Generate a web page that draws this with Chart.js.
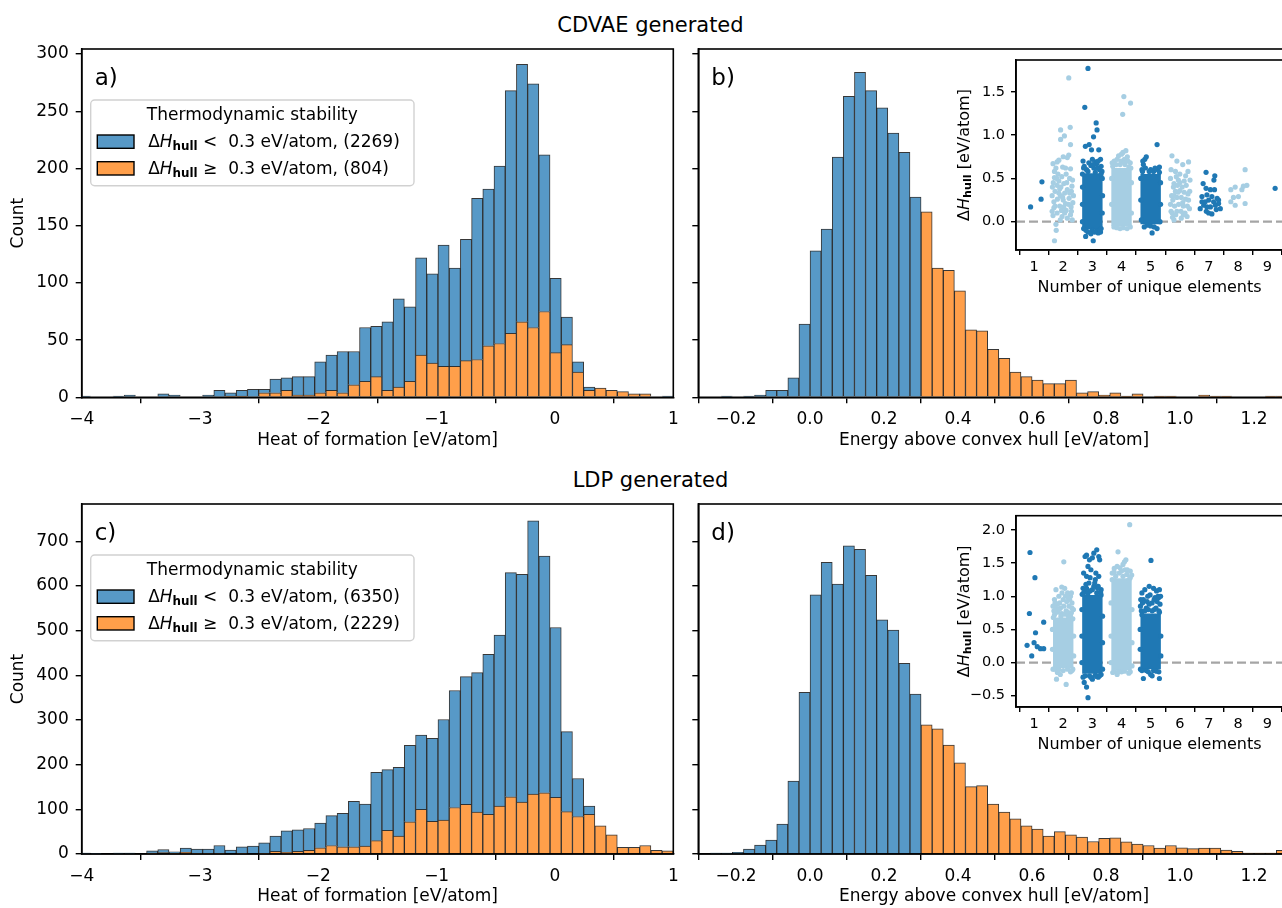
<!DOCTYPE html>
<html><head><meta charset="utf-8">
<script src="https://cdn.jsdelivr.net/npm/chart.js@4.4.1/dist/chart.umd.min.js"></script>
<style>
html,body{margin:0;padding:0;background:#fff;}
body{width:1282px;height:908px;overflow:hidden;position:relative;font-family:"DejaVu Sans",sans-serif;}
canvas{position:absolute;}
.sup{position:absolute;left:0;width:1301px;text-align:center;font:21px "DejaVu Sans";line-height:21px;color:#000;white-space:nowrap;}
</style></head><body>
<div class="sup" style="top:15px">CDVAE generated</div>
<div class="sup" style="top:470px">LDP generated</div>
<canvas id="cA"></canvas><canvas id="cB"></canvas><canvas id="cC"></canvas><canvas id="cD"></canvas>
<canvas id="iB"></canvas><canvas id="iD"></canvas>
<script>
// ---------------- DATA ----------------
const heatBinStart = -4.02, heatBinWidth = 0.09472;          // 53 bins
const heatTicks = [-4, -3, -2, -1, 0, 1];
const energyBinStart = -0.27, energyBinWidth = 0.03;         // 52 bins
const energyTicks = [-0.2, 0, 0.2, 0.4, 0.6, 0.8, 1.0, 1.2];
const countTicksCdvae = [0, 50, 100, 150, 200, 250, 300];
const countTicksLdp = [0, 100, 200, 300, 400, 500, 600, 700];
const hullCut = 0.3;
const cdvaeStableCount = 2269, cdvaeUnstableCount = 804;
const ldpStableCount = 6350, ldpUnstableCount = 2229;

// panel a: heat of formation, CDVAE (stacked: unstable at bottom, stable on top)
const cdvaeHeatUnstable = [0,0,0,0,0,0,0,0,0,0,0,0,0,1,1,0,4,4,6,2,2,4,6,4,11,14,18,6,9,14,37,30,27,27,32,33,45,47,56,66,61,75,39,46,22,6,8,6,5,3,3,0,0];
const cdvaeHeatStable   = [1,0,0,1,2,0,0,3,2,0,0,2,6,3,5,7,3,12,11,16,16,27,31,36,29,47,44,60,77,65,85,78,106,86,106,141,137,155,212,225,213,137,65,24,9,3,0,0,0,0,0,0,1];
// panel c: heat of formation, LDP
const ldpHeatUnstable = [0,0,0,0,0,0,2,3,2,4,1,1,1,0,1,0,1,6,4,6,8,14,19,16,16,18,30,53,40,72,100,73,76,104,111,94,89,107,128,116,134,137,127,95,84,89,63,43,15,15,19,8,7];
const ldpHeatStable   = [2,1,0,2,2,0,5,7,3,9,10,10,18,9,15,18,24,34,48,48,49,55,67,75,102,94,153,136,154,171,166,186,225,262,286,312,358,383,502,510,612,530,380,179,85,18,0,0,0,0,0,0,0];
// panel b / d: energy above hull
const cdvaeHull = [0,1,0,1,2,6,6,17,64,128,147,210,263,284,268,253,231,214,175,162,113,111,93,59,58,42,34,22,18,15,12,12,15,4,5,2,4,1,3,0,1,1,0,0,2,1,1,0,0,0,1,1];
const ldpHull   = [2,2,4,11,20,31,67,163,362,580,653,604,690,682,624,524,501,427,358,289,280,244,204,151,153,112,94,79,63,56,40,50,43,38,28,35,36,27,22,19,13,19,14,12,13,13,9,6,2,2,2,8];

// insets: number of unique elements vs ΔH_hull  (x = element count incl. jitter, y = eV/atom)
const elemTicks = [1, 2, 3, 4, 5, 6, 7, 8, 9];
const cdvaeInsetTicks = [0, 0.5, 1.0, 1.5];
const ldpInsetTicks = [-0.5, 0, 0.5, 1.0, 1.5, 2.0];
const cdvaeCoreElems = [3, 4, 5], cdvaeCoreLow = [-0.09, -0.05, -0.03], cdvaeCoreHigh = [0.56, 0.62, 0.55];
const ldpCoreElems = [2, 3, 4, 5], ldpCoreLow = [-0.08, -0.17, -0.12, -0.10], ldpCoreHigh = [0.68, 1.02, 1.27, 0.74];
const cdvaeStripDark = [[0.88,0.17],[1.24,0.26],[1.27,0.46],
[2.85,1.77],[2.74,1.32],[3.13,1.14],[3.16,1.06],[3.04,0.98],[2.89,0.89],[2.76,0.87],[2.97,0.83],[3.22,0.83],[3.28,0.72],[3.11,0.69],[2.77,-0.17],[3.03,-0.22],[3.28,-0.12],[2.70,0.62],[2.80,0.60],[2.95,0.65],[3.05,0.62],[3.15,0.67],[3.25,0.60],[3.33,0.58],[2.68,0.70],[3.00,0.72],[3.20,0.70],[2.85,0.58],[3.30,0.64],[2.66,0.55],[3.10,0.57],[3.34,0.50],[2.66,0.40],[3.35,0.30],[2.66,0.20],[3.34,0.10],[2.66,0.00],[2.70,-0.08],[2.85,-0.12],[3.00,-0.10],[3.15,-0.11],[3.30,-0.08],[2.95,-0.14],[3.20,-0.13],[2.72,0.64],[2.88,0.68],[3.02,0.66],[3.18,0.62],[3.30,0.55],[2.78,-0.10],[3.08,-0.12],[3.25,-0.10],
[4.70,0.60],[4.75,0.66],[4.80,0.72],[4.85,0.75],[4.73,0.70],[5.25,0.60],[5.30,0.63],[5.10,0.58],[4.95,0.58],[5.22,0.89],[5.05,-0.13],[5.22,-0.08],[4.88,-0.04],[4.66,0.50],[5.34,0.45],[4.66,0.25],[5.34,0.20],[4.68,0.02],[5.32,0.00],[5.00,-0.05],[4.72,0.58],[4.82,0.62],[5.00,0.60],[5.15,0.62],[5.30,0.57],[4.78,-0.06],[5.12,-0.06],
[6.90,0.57],[7.20,0.53],[7.17,0.48],[6.80,0.44],[6.90,0.385],[7.05,0.37],[7.19,0.37],[6.93,0.31],[6.76,0.29],[7.28,0.27],[6.99,0.25],[7.16,0.23],[7.33,0.21],[6.82,0.19],[7.05,0.17],[7.25,0.14],[6.91,0.12],[7.10,0.09],[6.76,0.23],[7.39,0.15],[7.22,0.19],[6.87,0.23],[6.93,0.17],[7.10,0.29],[7.33,0.25],[6.70,0.15],[6.99,0.10],
[9.27,0.385]];
const cdvaeStripLight = [[2.19,1.66],[1.91,0.95],[1.91,1.06],[2.04,0.99],[2.24,1.09],[2.25,0.89],[1.79,0.69],[1.85,0.71],[2.00,0.75],[2.14,0.74],[2.19,0.77],[1.75,0.62],[2.25,0.61],[1.70,0.51],[2.32,0.48],[1.79,0.42],[2.02,0.44],[2.14,0.37],[1.91,0.30],[1.68,0.23],[2.08,0.21],[2.27,0.17],[1.79,0.10],[1.96,0.06],[2.14,0.04],[2.31,0.02],[1.75,-0.03],[1.76,-0.10],[1.70,-0.22],[1.65,0.67],[1.70,0.58],[1.82,0.55],[1.95,0.52],[2.10,0.55],[2.22,0.50],[1.66,0.45],[1.88,0.38],[2.05,0.33],[2.28,0.35],[1.72,0.35],[1.62,0.30],[1.80,0.26],[2.00,0.25],[2.20,0.27],[2.33,0.22],[1.68,0.16],[1.88,0.18],[2.10,0.13],[2.25,0.08],[1.65,0.07],[1.90,0.02],[2.05,0.10],[2.35,0.30],[1.98,0.63],[2.12,0.45],[1.85,0.47],[1.62,0.12],[2.30,0.41],[1.94,0.13],[1.72,0.18],[2.18,0.20],[1.85,0.33],[2.02,0.17],[2.28,0.12],[1.78,0.50],[2.08,0.62],[1.92,0.40],[1.63,0.40],[2.22,0.33],[1.98,0.28],
[3.75,0.70],[3.90,0.76],[4.05,0.80],[4.15,0.82],[4.20,0.75],[4.30,0.68],[3.68,0.68],[4.10,0.72],[3.95,0.66],[4.25,0.63],[4.08,1.445],[4.31,1.37],[4.04,1.24],[4.19,-0.08],[3.74,-0.06],[3.66,0.50],[4.34,0.45],[3.66,0.20],[4.34,0.10],[3.95,-0.08],[3.85,0.72],[4.00,0.78],[4.12,0.66],[3.70,0.64],[3.82,0.66],[3.98,0.70],[4.10,0.68],[4.22,0.70],[4.32,0.62],[3.84,-0.07],[4.06,-0.07],[4.30,-0.06],
[5.73,0.76],[5.90,0.70],[6.10,0.66],[6.30,0.69],[5.70,0.60],[5.85,0.58],[6.00,0.55],[6.20,0.53],[6.35,0.48],[5.68,0.50],[5.95,0.48],[5.75,0.05],[5.80,0.02],[6.05,0.04],[6.25,0.06],[5.70,0.12],[6.33,0.15],[6.00,0.45],[6.15,0.47],[5.88,0.52],[6.28,0.58],[5.80,0.44],[5.72,0.30],[6.34,0.35],[5.68,0.20],[6.30,0.25],[5.78,0.40],[5.92,0.42],[6.08,0.40],[6.22,0.42],[5.85,0.35],[6.00,0.36],[6.15,0.34],[6.28,0.32],[5.76,0.25],[5.90,0.28],[6.05,0.28],[6.20,0.26],[5.82,0.18],[5.96,0.20],[6.12,0.18],[6.26,0.18],[5.74,0.10],[5.90,0.12],[6.04,0.12],[6.18,0.10],[5.86,0.08],[6.12,0.08],[5.94,0.34],[6.10,0.22],[5.80,0.30],
[7.75,0.37],[7.90,0.40],[8.24,0.60],[8.30,0.42],[8.18,0.41],[7.75,0.23],[7.84,0.28],[8.01,0.29],[7.90,0.19],[8.24,0.21],[8.13,0.37]];
const ldpStripDark = [[0.86,1.66],[1.03,1.28],[0.84,0.74],[1.33,0.61],[1.05,0.45],[1.00,0.30],[0.76,0.26],[0.92,0.10],[1.11,0.24],[1.22,0.21],[1.33,0.21],
[2.75,1.60],[2.80,1.62],[2.90,1.55],[3.05,1.65],[3.15,1.70],[3.22,1.60],[3.25,1.55],[3.00,1.58],[2.70,1.35],[2.80,1.30],[2.95,1.40],[3.10,1.25],[2.88,1.20],[3.20,1.15],[2.68,1.12],[3.30,1.10],[2.75,1.08],[3.00,1.10],[3.15,1.05],[2.85,1.05],[3.30,1.02],[2.65,1.03],[2.72,-0.30],[2.80,-0.37],[2.85,-0.53],[2.68,-0.22],[3.00,-0.25],[3.20,-0.22],[3.30,-0.18],[2.90,-0.20],[3.10,-0.19],[2.64,0.80],[3.35,0.70],[2.64,0.40],[3.35,0.30],[2.64,0.00],[3.35,-0.10],[2.70,1.05],[2.80,1.12],[2.92,1.08],[3.05,1.15],[3.18,1.12],[3.28,1.06],[2.78,1.18],[3.08,1.20],[2.92,1.28],[3.22,1.30],[2.85,1.45],[3.12,1.35],[2.75,-0.20],[2.95,-0.22],[3.15,-0.21],[3.25,-0.20],
[5.01,1.54],[4.70,1.05],[4.80,1.10],[4.95,1.15],[5.10,1.12],[5.20,1.08],[5.30,1.10],[5.25,1.00],[4.75,0.95],[4.90,1.00],[5.05,0.90],[5.15,0.98],[4.65,0.85],[5.32,0.88],[4.85,0.82],[5.12,0.80],[5.28,0.78],[4.68,0.78],[4.75,-0.24],[5.00,-0.18],[5.05,-0.20],[5.30,-0.24],[4.85,-0.12],[5.20,-0.13],[4.65,-0.10],[4.95,0.88],[5.22,0.92],[4.72,0.90],[4.64,0.50],[5.35,0.40],[4.64,0.20],[5.35,0.10],[4.70,0.72],[4.80,0.78],[4.92,0.80],[5.05,0.78],[5.18,0.82],[5.30,0.76],[4.88,0.92],[5.12,0.95],[4.98,1.02],[5.28,0.98],[4.66,0.95],[5.34,1.00],[4.70,-0.12],[4.92,-0.14],[5.10,-0.12],[5.28,-0.14]];
const ldpStripLight = [[2.02,1.52],[1.75,1.10],[1.95,1.14],[2.05,1.12],[2.15,1.05],[2.25,1.00],[1.70,0.95],[1.85,1.00],[2.30,0.90],[1.65,0.85],[2.00,0.95],[2.20,0.85],[1.80,0.88],[2.35,0.80],[1.68,0.78],[1.90,0.82],[2.10,0.78],[2.28,0.75],[1.77,-0.25],[2.10,-0.33],[1.80,-0.15],[2.00,-0.12],[2.25,-0.14],[1.65,-0.10],[2.33,-0.10],[1.90,-0.18],[1.63,0.50],[2.36,0.40],[1.63,0.20],[2.36,0.10],[1.95,0.74],[2.18,0.70],[1.70,0.72],[1.80,0.76],[1.92,0.70],[2.05,0.73],[2.15,0.76],[2.25,0.70],[2.33,0.66],[1.66,0.68],[1.75,0.82],[1.88,0.90],[2.02,0.85],[2.12,0.92],[2.22,0.95],[2.30,0.82],[1.72,0.90],[1.96,1.05],[2.08,1.00],[2.18,0.98],[1.85,0.80],[2.28,1.05],[1.70,-0.10],[1.85,-0.11],[2.15,-0.10],[2.30,-0.12],
[4.28,2.08],[3.88,1.67],[4.10,1.52],[4.15,1.55],[4.05,1.48],[3.75,1.42],[3.85,1.45],[4.20,1.40],[4.30,1.38],[3.95,1.43],[3.68,1.35],[4.35,1.32],[4.25,1.25],[3.70,-0.15],[4.00,-0.14],[4.25,-0.16],[3.85,-0.18],[3.64,0.90],[4.36,0.80],[3.64,0.40],[4.36,0.30],[3.64,0.00],[4.36,-0.05],[3.68,1.25],[3.80,1.30],[3.92,1.35],[4.05,1.30],[4.18,1.33],[4.30,1.28],[3.75,1.36],[4.12,1.40],[4.00,1.38],[3.75,-0.13],[3.90,-0.14],[4.10,-0.13],[4.30,-0.14]];

// ---------------- STYLE / LAYOUT ----------------
const FAM = '"DejaVu Sans", sans-serif';
const BLUE = 'rgb(87,153,199)', ORANGE = 'rgb(255,159,74)', EDGE = 'rgba(20,20,20,0.85)';
const DARK = '#1f78b4', LIGHT = '#a6cee3';
Chart.defaults.font.family = FAM;
Chart.defaults.color = '#000';

const fmtInt = v => (v < 0 ? '\u2212' : '') + Math.abs(v);
const fmt1 = v => (Math.abs(v) < 1e-9 ? '0.0' : (v < 0 ? '\u2212' : '') + Math.abs(v).toFixed(1));

function place(id, left, top, w, h) {
  const c = document.getElementById(id);
  c.width = w; c.height = h;
  c.style.left = left + 'px'; c.style.top = top + 'px';
  c.style.width = w + 'px'; c.style.height = h + 'px';
  return c;
}
function axis(o) {
  return {
    type: 'linear', min: o.min, max: o.max, offset: false, stacked: !!o.stacked,
    afterFit: o.fit,
    afterBuildTicks: s => { s.ticks = o.ticks.map(v => ({ value: v })); },
    ticks: { callback: o.fmt, font: { family: FAM, size: o.fs }, color: '#000', padding: o.pad,
      maxRotation: 0, minRotation: 0, autoSkip: false, includeBounds: false },
    grid: { display: true, drawOnChartArea: false, drawTicks: true, tickLength: o.tl, tickWidth: 1.4,
      tickColor: '#000', color: '#000', lineWidth: 1.4 },
    border: { display: true, color: '#000', width: 1.6 }
  };
}
function font(seg, size) {
  const s = seg.sub ? size * 0.7 : size;
  return (seg.italic ? 'italic ' : '') + (seg.bold ? 'bold ' : '') + s + 'px ' + FAM;
}
function rich(ctx, segs, x, y, size, align) {
  const parts = segs.map(sg => { ctx.font = font(sg, size); return { sg, w: ctx.measureText(sg.t).width }; });
  const total = parts.reduce((a, p) => a + p.w, 0);
  let cx = align === 'center' ? x - total / 2 : x;
  ctx.textAlign = 'left';
  for (const p of parts) {
    ctx.font = font(p.sg, size);
    ctx.fillText(p.sg.t, cx, y + (p.sg.sub ? size * 0.2 : 0));
    cx += p.w;
  }
}
function hullSegs(rest) {
  return [{ t: '\u0394' }, { t: 'H', italic: true }, { t: 'hull', sub: true, bold: true }, { t: rest }];
}
function text(ctx, s, x, y, size, align, baseline, rot) {
  ctx.save();
  ctx.font = size + 'px ' + FAM;
  ctx.fillStyle = '#000';
  ctx.textAlign = align; ctx.textBaseline = baseline;
  ctx.translate(x, y);
  if (rot) ctx.rotate(rot);
  ctx.fillText(s, 0, 0);
  ctx.restore();
}
function frame(ctx, a, lw) {
  ctx.save(); ctx.strokeStyle = '#000'; ctx.lineWidth = lw;
  ctx.strokeRect(a.left, a.top, a.right - a.left, a.bottom - a.top);
  ctx.restore();
}
function legend(ctx, nStable, nUnstable) {
  ctx.save();
  const x0 = 90.7, y0 = 100, w = 323.3, h = 85.7, r = 4;
  ctx.beginPath();
  ctx.moveTo(x0 + r, y0); ctx.arcTo(x0 + w, y0, x0 + w, y0 + h, r); ctx.arcTo(x0 + w, y0 + h, x0, y0 + h, r);
  ctx.arcTo(x0, y0 + h, x0, y0, r); ctx.arcTo(x0, y0, x0 + w, y0, r); ctx.closePath();
  ctx.fillStyle = 'rgba(255,255,255,0.8)'; ctx.fill();
  ctx.strokeStyle = 'rgba(204,204,204,0.9)'; ctx.lineWidth = 1.4; ctx.stroke();
  ctx.fillStyle = '#000'; ctx.textBaseline = 'alphabetic';
  rich(ctx, [{ t: 'Thermodynamic stability' }], x0 + w / 2, 119.5, 17, 'center');
  const rows = [[BLUE, ' <  0.3 eV/atom, (' + nStable + ')', 135], [ORANGE, ' \u2265  0.3 eV/atom, (' + nUnstable + ')', 161.7]];
  for (const [col, rest, ty] of rows) {
    ctx.fillStyle = col; ctx.fillRect(97.3, ty, 36.7, 13.3);
    ctx.strokeStyle = '#000'; ctx.lineWidth = 1.4; ctx.strokeRect(97.3, ty, 36.7, 13.3);
    ctx.fillStyle = '#000';
    rich(ctx, hullSegs(rest), 148.2, ty + 11.8, 17, 'left');
  }
  ctx.restore();
}

function histChart(o) {
  const cv = place(o.id, o.left, o.top, o.w, o.h);
  const A = o.area;
  return new Chart(cv, {
    type: 'bar',
    data: { datasets: o.datasets },
    options: {
      responsive: false, animation: false, devicePixelRatio: 1, events: [],
      layout: { padding: { left: 0, top: A.t, right: o.w - A.r, bottom: 0 } },
      plugins: { legend: { display: false }, tooltip: { enabled: false } },
      scales: {
        x: axis({ min: o.xMin, max: o.xMax, stacked: true, ticks: o.xTicks, fmt: o.xFmt, fs: 17, pad: 6, tl: 6,
          fit: s => { s.height = o.h - A.b; } }),
        y: axis({ min: 0, max: o.yMax, stacked: true, ticks: o.yTicks, fmt: o.yLabels ? fmtInt : () => '', fs: 17, pad: 7, tl: 6,
          fit: s => { s.width = A.l; } })
      }
    },
    plugins: [{ id: 'deco', afterDraw(ch) {
      const ctx = ch.ctx, a = ch.chartArea;
      frame(ctx, a, 1.6);
      text(ctx, o.xTitle, (a.left + a.right) / 2, a.bottom + 43, 17, 'center', 'middle', 0);
      if (o.yLabels) text(ctx, 'Count', 18.3, (a.top + a.bottom) / 2, 17, 'center', 'middle', -Math.PI / 2);
      text(ctx, o.tag, a.left + 13, 85, 23, 'left', 'alphabetic', 0);
      if (o.legend) legend(ctx, o.legend[0], o.legend[1]);
    } }]
  });
}

function stackSets(centers, unstable, stable) {
  const bar = { borderColor: EDGE, borderWidth: 1, barPercentage: 1, categoryPercentage: 1, borderSkipped: 'start' };
  return [
    Object.assign({ data: centers.map((x, i) => ({ x, y: unstable[i] })), backgroundColor: ORANGE }, bar),
    Object.assign({ data: centers.map((x, i) => ({ x, y: stable[i] })), backgroundColor: BLUE }, bar)
  ];
}
function hullSet(centers, counts) {
  return [{ data: centers.map((x, i) => ({ x, y: counts[i] })),
    backgroundColor: centers.map(x => (x < hullCut ? BLUE : ORANGE)),
    borderColor: EDGE, borderWidth: 1, barPercentage: 1, categoryPercentage: 1, borderSkipped: 'start' }];
}

const heatCenters = cdvaeHeatStable.map((_, i) => heatBinStart + (i + 0.5) * heatBinWidth);
const hullCenters = cdvaeHull.map((_, i) => energyBinStart + (i + 0.5) * energyBinWidth);

histChart({ id: 'cA', left: 0, top: 0, w: 690, h: 455, area: { l: 81.7, t: 49, r: 673.3, b: 397.3 },
  xMin: -4, xMax: 1, xTicks: heatTicks, xFmt: fmtInt, yMax: 304.4, yTicks: countTicksCdvae, yLabels: true,
  datasets: stackSets(heatCenters, cdvaeHeatUnstable, cdvaeHeatStable), xTitle: 'Heat of formation [eV/atom]',
  tag: 'a)', legend: [cdvaeStableCount, cdvaeUnstableCount] });
histChart({ id: 'cB', left: 690, top: 0, w: 620, h: 455, area: { l: 8.3, t: 49, r: 600, b: 397.3 },
  xMin: -0.302, xMax: 1.297, xTicks: energyTicks, xFmt: fmt1, yMax: 304.4, yTicks: countTicksCdvae, yLabels: false,
  datasets: hullSet(hullCenters, cdvaeHull), xTitle: 'Energy above convex hull [eV/atom]', tag: 'b)' });
histChart({ id: 'cC', left: 0, top: 455, w: 690, h: 453, area: { l: 81.7, t: 49, r: 673.3, b: 399 },
  xMin: -4, xMax: 1, xTicks: heatTicks, xFmt: fmtInt, yMax: 783.5, yTicks: countTicksLdp, yLabels: true,
  datasets: stackSets(heatCenters, ldpHeatUnstable, ldpHeatStable), xTitle: 'Heat of formation [eV/atom]',
  tag: 'c)', legend: [ldpStableCount, ldpUnstableCount] });
histChart({ id: 'cD', left: 690, top: 455, w: 620, h: 453, area: { l: 8.3, t: 49, r: 600, b: 399 },
  xMin: -0.302, xMax: 1.297, xTicks: energyTicks, xFmt: fmt1, yMax: 783.5, yTicks: countTicksLdp, yLabels: false,
  datasets: hullSet(hullCenters, ldpHull), xTitle: 'Energy above convex hull [eV/atom]', tag: 'd)' });

function insetChart(o) {
  const cv = place(o.id, o.left, o.top, o.w, o.h);
  const A = o.area, xMin = 0.38, xMax = 9.54;
  const pts = arr => arr.map(([x, y]) => ({ x, y }));
  return new Chart(cv, {
    type: 'scatter',
    data: { datasets: [
      { type: 'line', data: [{ x: xMin, y: 0 }, { x: xMax, y: 0 }], borderColor: 'rgba(160,160,160,0.95)', borderWidth: 2.3,
        borderDash: [9, 4], pointRadius: 0, showLine: true, fill: false, order: 3 },
      { type: 'bar', data: o.coreElems.map((c, i) => ({ x: c, y: [o.coreLow[i], o.coreHigh[i]] })),
        backgroundColor: o.coreElems.map(c => (c % 2 ? DARK : LIGHT)), borderWidth: 0,
        barPercentage: 0.7, categoryPercentage: 1, order: 2 },
      { data: pts(o.light), backgroundColor: LIGHT, pointRadius: 2.6, borderWidth: 0, order: 1 },
      { data: pts(o.dark), backgroundColor: DARK, pointRadius: 2.6, borderWidth: 0, order: 0 }
    ] },
    options: {
      responsive: false, animation: false, devicePixelRatio: 1, events: [],
      layout: { padding: { left: 0, top: A.t, right: o.w - A.r, bottom: 0 } },
      plugins: { legend: { display: false }, tooltip: { enabled: false } },
      scales: {
        x: axis({ min: xMin, max: xMax, ticks: elemTicks, fmt: v => String(v), fs: 14.5, pad: 4, tl: 5,
          fit: s => { s.height = o.h - A.b; } }),
        y: axis({ min: o.yMin, max: o.yMax, ticks: o.yTicks, fmt: fmt1, fs: 14.5, pad: 6, tl: 5,
          fit: s => { s.width = A.l; } })
      }
    },
    plugins: [{ id: 'inset', beforeDraw(ch) {
      const ctx = ch.ctx, a = ch.chartArea;
      ctx.save(); ctx.fillStyle = '#fff'; ctx.fillRect(a.left, a.top, a.right - a.left, a.bottom - a.top); ctx.restore();
    }, afterDraw(ch) {
      const ctx = ch.ctx, a = ch.chartArea;
      frame(ctx, a, 1.6);
      text(ctx, 'Number of unique elements', (a.left + a.right) / 2, a.bottom + 38, 16, 'center', 'middle', 0);
      ctx.save();
      ctx.translate(a.left - 51, (a.top + a.bottom) / 2);
      ctx.rotate(-Math.PI / 2);
      ctx.fillStyle = '#000'; ctx.textBaseline = 'middle';
      rich(ctx, hullSegs(' [eV/atom]'), 0, 0, 16, 'center');
      ctx.restore();
    } }]
  });
}
insetChart({ id: 'iB', left: 930, top: 40, w: 360, h: 260, area: { l: 86, t: 20, r: 353, b: 210 },
  yMin: -0.327, yMax: 1.867, yTicks: cdvaeInsetTicks, dark: cdvaeStripDark, light: cdvaeStripLight,
  coreElems: cdvaeCoreElems, coreLow: cdvaeCoreLow, coreHigh: cdvaeCoreHigh });
insetChart({ id: 'iD', left: 930, top: 495, w: 360, h: 262, area: { l: 86, t: 20.7, r: 353, b: 212 },
  yMin: -0.67, yMax: 2.215, yTicks: ldpInsetTicks, dark: ldpStripDark, light: ldpStripLight,
  coreElems: ldpCoreElems, coreLow: ldpCoreLow, coreHigh: ldpCoreHigh });
</script>
</body></html>
